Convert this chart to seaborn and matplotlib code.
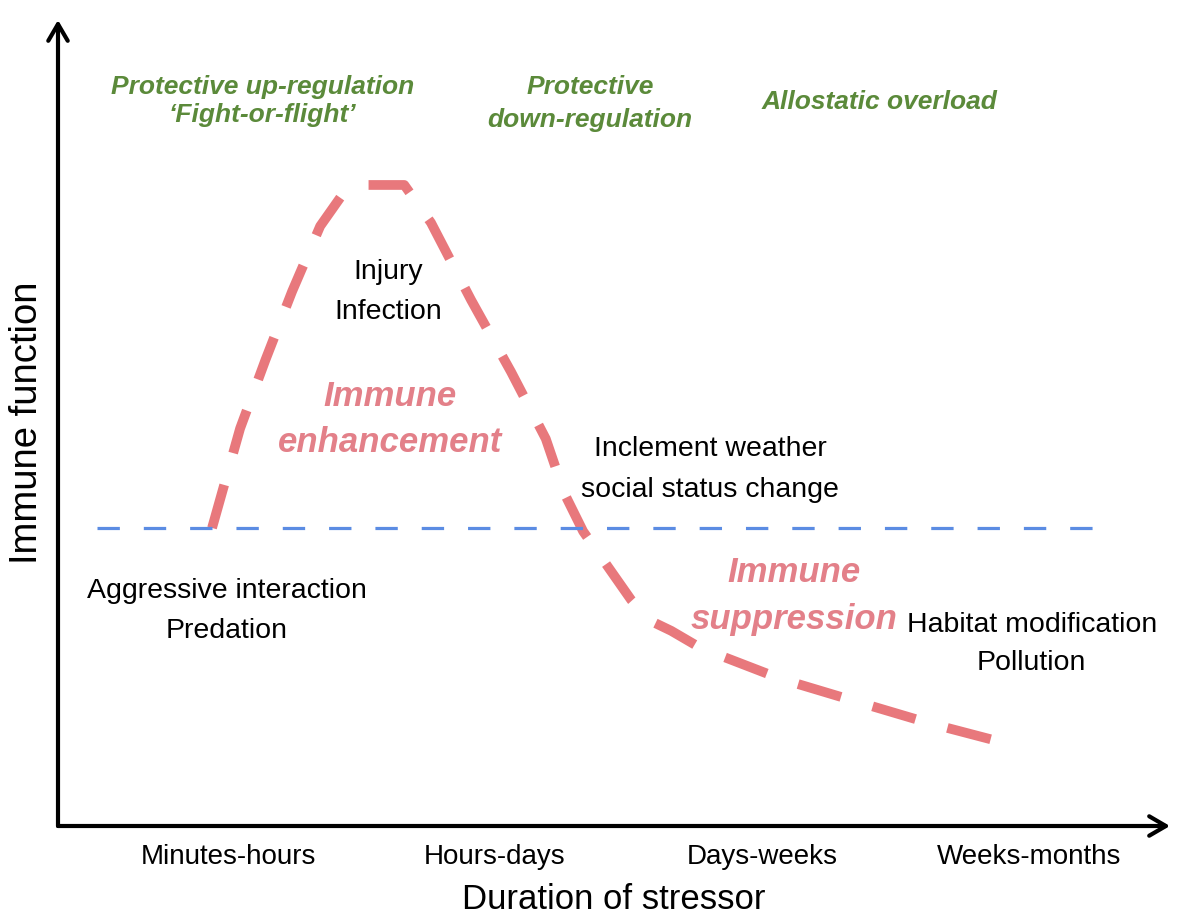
import matplotlib
matplotlib.use('Agg')
import matplotlib.pyplot as plt
import seaborn as sns
import pandas as pd

# duration of stressor (1 = minutes-hours ... 4 = weeks-months), immune function (0 = baseline)
duration = [0.94, 1.045, 1.14, 1.24, 1.345, 1.44, 1.50, 1.66, 1.76, 1.91, 2.06, 2.19,
            2.26, 2.33, 2.42, 2.51, 2.58, 2.66, 2.77, 3.07, 3.37, 3.63, 3.90]
immune = [0.0, 0.29, 0.49, 0.69, 0.88, 0.985, 1.0, 1.0, 0.89, 0.665, 0.455, 0.26,
          0.10, -0.01, -0.11, -0.21, -0.27, -0.30, -0.35, -0.44, -0.51, -0.57, -0.625]
baseline_x = [0.51, 4.27]
baseline_y = [0.0, 0.0]

tick_pos = [1, 2, 3, 4]
tick_labels = ['Minutes-hours', 'Hours-days', 'Days-weeks', 'Weeks-months']

PINK = '#E8787C'
PINK_TXT = '#E38089'
BLUE = '#5B8CE3'
GREEN = '#5B8A3A'

sns.set_style('white')
plt.rcParams['font.family'] = ['Liberation Sans', 'DejaVu Sans']

fig = plt.figure(figsize=(11.77, 9.23), dpi=100)
ax = fig.add_axes([58 / 1177, 97 / 923, 1112 / 1177, 806 / 923])

df = pd.DataFrame({'duration': duration, 'immune': immune})
sns.lineplot(data=df, x='duration', y='immune', sort=False, color=PINK, lw=7,
             linestyle=(0, (4.6, 3.4)), dash_capstyle='butt', ax=ax)
sns.lineplot(x=baseline_x, y=baseline_y, color=BLUE, lw=2.3,
             linestyle=(0, (7, 7.5)), dash_capstyle='butt', ax=ax)

ax.set_xlim(0.363, 4.528)
ax.set_ylim(-0.869, 1.481)

for s in ax.spines.values():
    s.set_visible(False)
arrow = dict(arrowstyle='->,head_length=1.2,head_width=0.7', lw=3, color='black',
             shrinkA=0, shrinkB=0)
ax.annotate('', xy=(1, 0), xytext=(0, 0), xycoords='axes fraction', arrowprops=arrow)
ax.annotate('', xy=(0, 1), xytext=(0, 0), xycoords='axes fraction', arrowprops=arrow)

ax.set_xticks(tick_pos)
ax.set_xticklabels(tick_labels, fontsize=20, color='black')
ax.set_yticks([])
ax.tick_params(axis='x', length=0, pad=13)
ax.set_xlabel('Duration of stressor', fontsize=25, labelpad=9, color='black')
ax.set_ylabel('Immune function', fontsize=27.5, labelpad=9, color='black')

green = dict(color=GREEN, fontsize=19, fontweight='bold', fontstyle='italic',
             ha='center', va='center')
ax.text(1.13, 1.245, 'Protective up-regulation\n\u2018Fight-or-flight\u2019',
        linespacing=1.25, **green)
ax.text(2.356, 1.238, 'Protective\ndown-regulation', linespacing=1.45, **green)
ax.text(3.44, 1.242, 'Allostatic overload', **green)

black = dict(color='black', fontsize=20.5, ha='center', va='center')
ax.text(1.60, 0.688, 'Injury\nInfection', linespacing=1.72, **black)
ax.text(2.805, 0.17, 'Inclement weather\nsocial status change', linespacing=1.72, **black)
ax.text(0.996, -0.242, 'Aggressive interaction\nPredation', linespacing=1.72, **black)
ax.text(4.01, -0.338, 'Habitat modification\nPollution', linespacing=1.6, **black)

pink = dict(color=PINK_TXT, fontsize=25, fontweight='bold', fontstyle='italic',
            ha='center', va='center')
ax.text(1.607, 0.315, 'Immune\nenhancement', linespacing=1.5, **pink)
ax.text(3.12, -0.198, 'Immune\nsuppression', linespacing=1.56, **pink)

fig.savefig('out.png', dpi=100)
